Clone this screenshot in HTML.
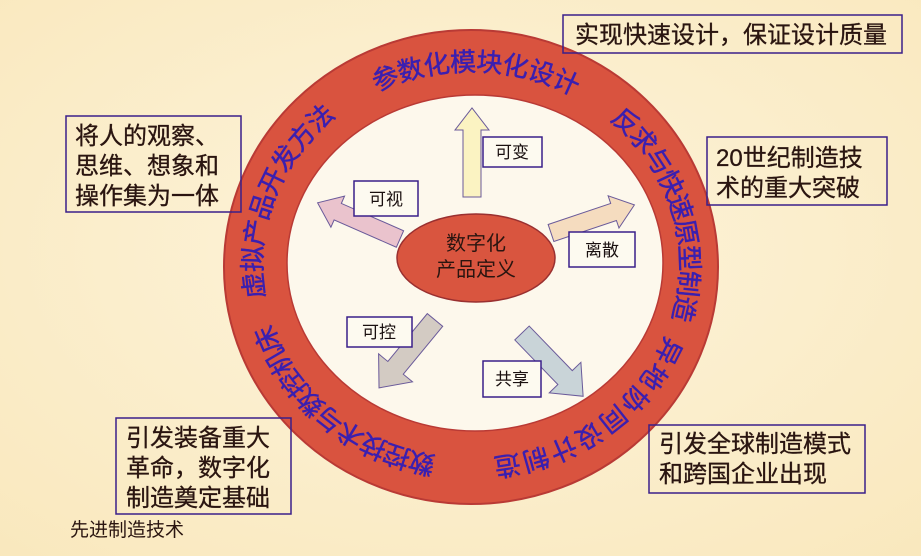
<!DOCTYPE html>
<html><head><meta charset="utf-8"><style>
html,body{margin:0;padding:0;}
body{width:921px;height:556px;overflow:hidden;background:#fbefc8;}
svg{display:block;}
text{font-family:"Liberation Sans","Noto Sans CJK SC",sans-serif;}
</style></head><body>
<svg width="921" height="556" viewBox="0 0 921 556" xmlns="http://www.w3.org/2000/svg">
<defs>
<radialGradient id="bg" cx="0.5" cy="0.45" r="0.75">
<stop offset="0" stop-color="#fdf4dc"/><stop offset="1" stop-color="#f9e8bd"/>
</radialGradient>
<path id="tp" d="M471,459 A209,194 0 1 1 471,71 A209,194 0 1 1 471,459"/>
</defs>
<rect width="921" height="556" fill="url(#bg)"/>
<!-- ring -->
<ellipse cx="471" cy="267" rx="247" ry="237" fill="#d9533f" stroke="#b93a35" stroke-width="2"/>
<ellipse cx="475" cy="263" rx="188" ry="168" fill="#fdf8ec" stroke="#b93a35" stroke-width="1.5"/>
<!-- ring text -->
<g font-size="26" fill="#3a1fb0" stroke="#3a1fb0" stroke-width="0.5">
<text><textPath href="#tp" startOffset="35" letter-spacing="-1.5">数控技术与数控机床</textPath></text>
<text><textPath href="#tp" startOffset="284" letter-spacing="-0.5">虚拟产品开发方法</textPath></text>
<text><textPath href="#tp" startOffset="536" letter-spacing="-0.5">参数化模块化设计</textPath></text>
<text><textPath href="#tp" startOffset="783" letter-spacing="-1.5">反求与快速原型制造</textPath></text>
<text><textPath href="#tp" startOffset="1022" letter-spacing="2">异地协同设计制造</textPath></text>
</g>
<!-- arrows -->
<g stroke="#6a5a9a" stroke-width="1">
<polygon transform="translate(472,197) rotate(-90)" points="0,-9 67,-9 67,-17 89,0 67,17 67,9 0,9" fill="#fbf3c2"/>
<polygon transform="translate(400,239) rotate(203.7)" points="0,-9 68,-9 68,-17 90,0 68,17 68,9 0,9" fill="#eac3cd"/>
<polygon transform="translate(551,233) rotate(-18.6)" points="0,-9 66,-9 66,-17 88,0 66,17 66,9 0,9" fill="#f5dcbf"/>
<polygon transform="translate(435,320) rotate(129.5)" points="0,-10 62,-10 62,-22 88,0 62,22 62,10 0,10" fill="#d3cbc3"/>
<polygon transform="translate(522,333) rotate(46)" points="0,-10 62,-10 62,-22 88,0 62,22 62,10 0,10" fill="#c9d4d8"/>
</g>
<!-- center -->
<ellipse cx="476" cy="258" rx="79" ry="44" fill="#d9553f" stroke="#9a3030" stroke-width="1.5"/>
<g font-size="20" fill="#2a1510" text-anchor="middle">
<text x="476" y="250">数字化</text>
<text x="476" y="276">产品定义</text>
</g>
<!-- small label boxes -->
<g fill="#fdfaf0" stroke="#3a1f8a" stroke-width="1.5">
<rect x="483" y="137" width="59" height="30"/>
<rect x="354" y="181" width="64" height="35"/>
<rect x="569" y="232" width="66" height="35"/>
<rect x="347" y="317" width="65" height="30"/>
<rect x="483" y="361" width="58" height="36"/>
</g>
<g font-size="17" fill="#1a1010" text-anchor="middle">
<text x="512" y="158">可变</text>
<text x="386" y="205">可视</text>
<text x="602" y="256">离散</text>
<text x="379" y="338">可控</text>
<text x="512" y="385">共享</text>
</g>
<!-- outer boxes -->
<g fill="none" stroke="#3a1f8a" stroke-width="1.5">
<rect x="563" y="15" width="339" height="38"/>
<rect x="707" y="137" width="180" height="68"/>
<rect x="66" y="116" width="175" height="96"/>
<rect x="116" y="418" width="175" height="96"/>
<rect x="649" y="425" width="216" height="68"/>
</g>
<g font-size="24" fill="#2a1510" stroke="#2a1510" stroke-width="0.3">
<text x="575" y="43">实现快速设计，保证设计质量</text>
<text x="716" y="166">20世纪制造技</text>
<text x="716" y="196">术的重大突破</text>
<text x="75" y="144">将人的观察、</text>
<text x="75" y="174">思维、想象和</text>
<text x="75" y="204">操作集为一体</text>
<text x="126" y="446">引发装备重大</text>
<text x="126" y="476">革命，数字化</text>
<text x="126" y="506">制造奠定基础</text>
<text x="659" y="452">引发全球制造模式</text>
<text x="659" y="482">和跨国企业出现</text>
</g>
<text x="70" y="536" font-size="19" fill="#2a1510">先进制造技术</text>
</svg>
</body></html>
